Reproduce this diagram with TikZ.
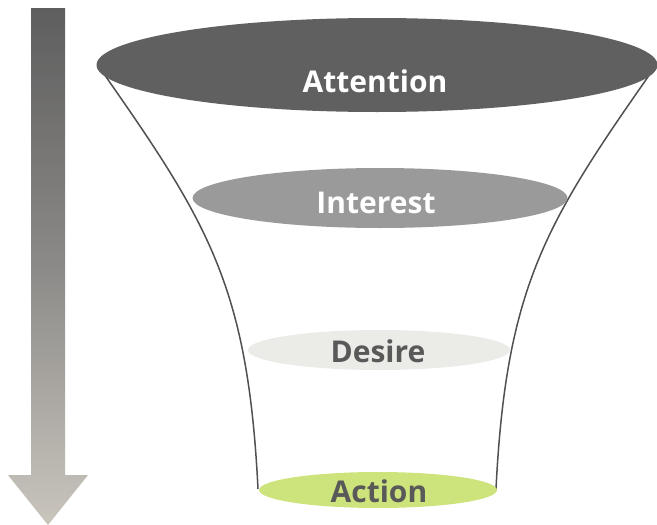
\documentclass[tikz,border=0pt]{standalone}
\usepackage{fontspec}
\setmainfont{Open Sans}
\usetikzlibrary{shapes.geometric}
\definecolor{attc}{HTML}{606060}
\definecolor{intc}{HTML}{9A9A9A}
\definecolor{desc}{HTML}{EBEBE8}
\definecolor{actc}{HTML}{CDE47C}
\definecolor{darktxt}{HTML}{595959}
\definecolor{funnelline}{HTML}{505050}
\definecolor{arrtop}{HTML}{5E5E5E}
\definecolor{arrmid}{HTML}{8C8A88}
\definecolor{arrbot}{HTML}{C9C5BD}
\begin{document}
\begin{tikzpicture}[x=1pt,y=-1pt,
  stage/.style={ellipse, draw=none, inner sep=0pt},
  stagetext/.style={anchor=base, inner sep=0pt, font=\bfseries\fontsize{30}{32}\selectfont},
  funnel/.style={draw=funnelline, line width=1.5pt}]
\useasboundingbox (0,0) rectangle (657,525);
% arrow
\shade[top color=arrtop, bottom color=arrbot, middle color=arrmid]
  (31,8) -- (65,8) -- (65,475) -- (88,475) -- (48,525) -- (8,475) -- (31,475) -- cycle;
% funnel sides
\coordinate (lt) at (104,74);
\coordinate (lb) at (258,489);
\coordinate (rt) at (650,74);
\coordinate (rb) at (496,489);
\draw[funnel] (lt) .. controls (209,224) and (248,288) .. (lb);
\draw[funnel] (rt) .. controls (545,224) and (506,288) .. (rb);
% stages
\node[stage, fill=attc, minimum width=561pt, minimum height=94pt] (att) at (377,65) {};
\node[stage, fill=intc, minimum width=375pt, minimum height=60pt] (int) at (380,198) {};
\node[stage, fill=desc, minimum width=262pt, minimum height=40pt] (des) at (379,350) {};
\node[stage, fill=actc, minimum width=238pt, minimum height=36pt] (act) at (378,490) {};
\node[stagetext, text=white] (attT) at (375,92) {Attention};
\node[stagetext, text=white] (intT) at (376,213) {Interest};
\node[stagetext, text=darktxt] (desT) at (378,362) {Desire};
\node[stagetext, text=darktxt] (actT) at (379,502) {Action};
\end{tikzpicture}
\end{document}
